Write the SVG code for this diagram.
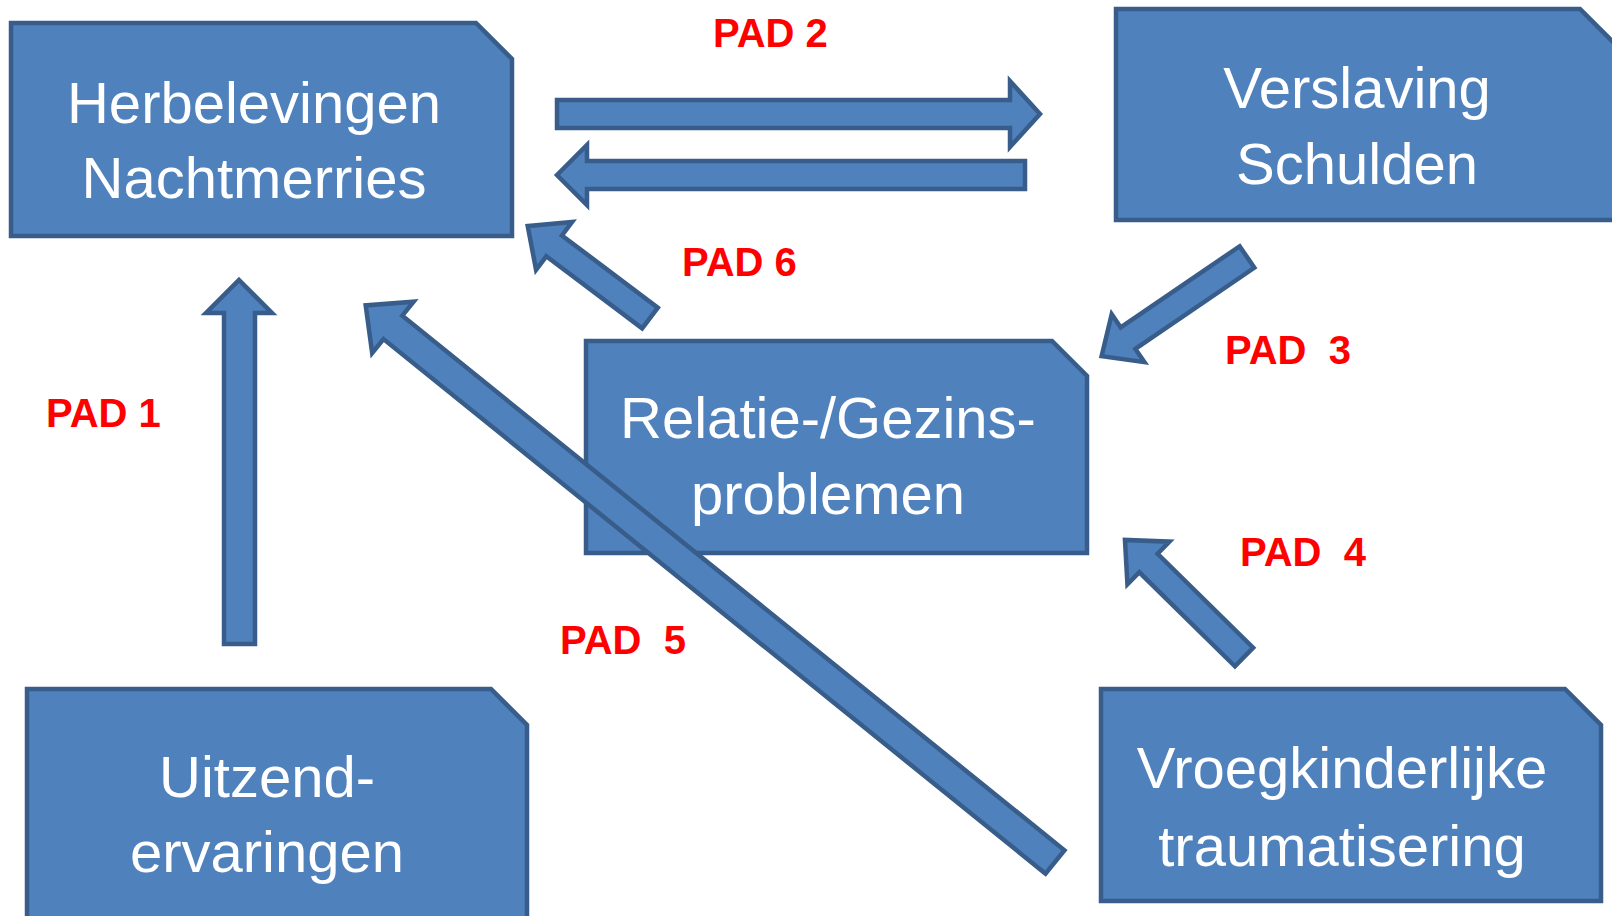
<svg xmlns="http://www.w3.org/2000/svg" width="1612" height="916" viewBox="0 0 1612 916">
<style>
.box{fill:#4F81BD;stroke:#385D8A;stroke-width:4.5;stroke-linejoin:miter}
.arr{fill:#4F81BD;stroke:#385D8A;stroke-width:4.5;stroke-linejoin:miter}
.t{font-family:"Liberation Sans",Arial,sans-serif;font-size:58px;fill:#FFFFFF;text-anchor:middle}
.lbl{font-family:"Liberation Sans",Arial,sans-serif;font-size:40px;font-weight:bold;fill:#FF0000;white-space:pre}
</style>
<rect width="1612" height="916" fill="#FFFFFF"/>
<g id="node-herbelevingen">
<path class="box" d="M11,23 H476 L512,59 V236 H11 Z"/>
<text class="t" x="254" y="123">Herbelevingen</text>
<text class="t" x="254" y="198">Nachtmerries</text>
</g>
<g id="node-verslaving">
<path class="box" d="M1116,9 H1580 L1618,47 V220 H1116 Z"/>
<text class="t" x="1357" y="108">Verslaving</text>
<text class="t" x="1357" y="184">Schulden</text>
</g>
<g id="node-relatie">
<path class="box" d="M586,341 H1052 L1087,376 V553 H586 Z"/>
<text class="t" x="828" y="438">Relatie-/Gezins-</text>
<text class="t" x="828" y="514">problemen</text>
</g>
<g id="node-uitzend">
<path class="box" d="M27,689 H491 L527,725 V930 H27 Z"/>
<text class="t" x="267" y="797">Uitzend-</text>
<text class="t" x="267" y="872">ervaringen</text>
</g>
<g id="node-vroegkinderlijke">
<path class="box" d="M1101,689 H1565 L1601,725 V901 H1101 Z"/>
<text class="t" x="1342" y="788">Vroegkinderlijke</text>
<text class="t" x="1342" y="866">traumatisering</text>
</g>
<g id="connectors">
<polygon class="arr" points="557,100 1010,100 1010,81 1040,114 1010,147 1010,128 557,128"/>
<polygon class="arr" points="557,175 587,145 587,161 1025,161 1025,189 587,189 587,205"/>
<polygon class="arr" points="239,280 272,313 255,313 255,644 224,644 224,313 206,313"/>
<polygon class="arr" transform="translate(650,318) rotate(216.94)" points="0,-13 120,-13 120,-30 153,0 120,30 120,13 0,13"/>
<polygon class="arr" transform="translate(1247,257) rotate(145.69)" points="0,-13 144,-13 144,-29 176,0 144,29 144,13 0,13"/>
<polygon class="arr" transform="translate(1244,657) rotate(224.53)" points="0,-13 134,-13 134,-30 167,0 134,30 134,13 0,13"/>
<polygon class="arr" transform="translate(1055,862) rotate(218.92)" points="0,-15 851,-15 851,-33 886,0 851,33 851,15 0,15"/>
</g>
<g id="labels">
<text class="lbl" x="713" y="47">PAD 2</text>
<text class="lbl" x="682" y="276">PAD 6</text>
<text class="lbl" x="1225" y="364" xml:space="preserve">PAD  3</text>
<text class="lbl" x="46" y="427">PAD 1</text>
<text class="lbl" x="1240" y="566" xml:space="preserve">PAD  4</text>
<text class="lbl" x="560" y="654" xml:space="preserve">PAD  5</text>
</g>
</svg>
